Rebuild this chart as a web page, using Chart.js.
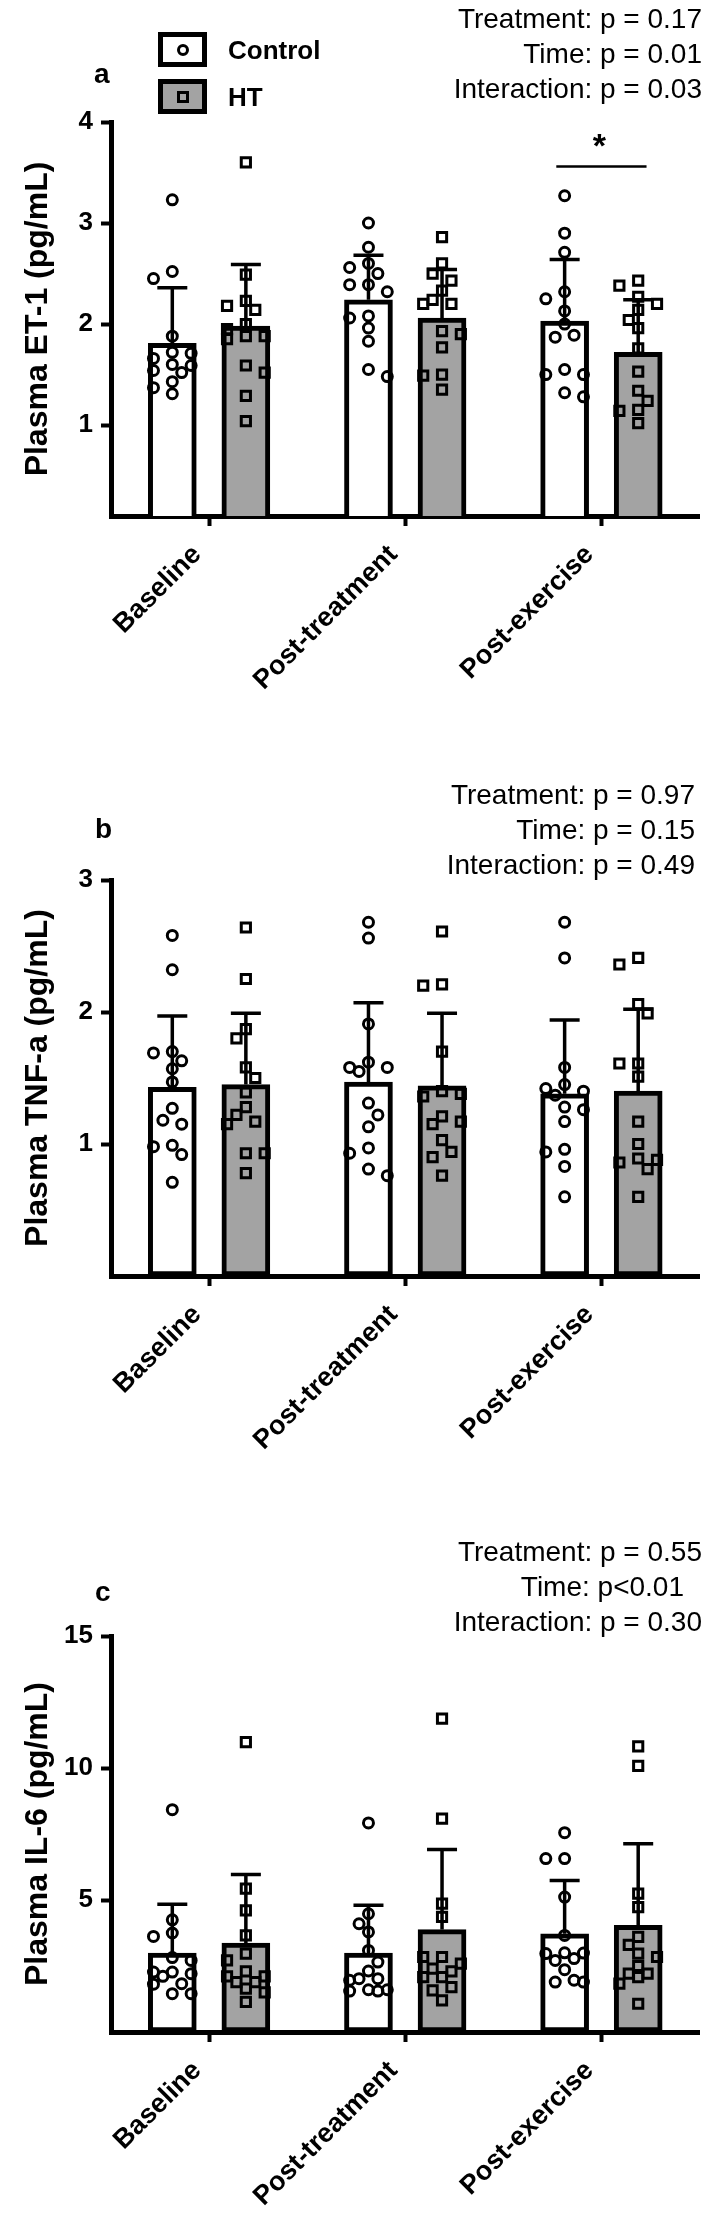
<!DOCTYPE html>
<html>
<head>
<meta charset="utf-8">
<script src="https://cdn.jsdelivr.net/npm/chart.js@4.4.1/dist/chart.umd.min.js"></script>
<style>
  body { margin: 0; background: #fff; width: 709px; height: 2230px; position: relative; overflow: hidden;
         font-family: "Liberation Sans", Arial, sans-serif; color: #000; }
  canvas { position: absolute; left: 0; }
  .pv { position: absolute; right: 7px; text-align: right; font-size: 28px; line-height: 35px; }
  .letter { position: absolute; font-weight: bold; font-size: 28px; line-height: 28px; }
  .lgbox { position: absolute; left: 158px; width: 49px; height: 35px; border: 5px solid #000; box-sizing: border-box; }
  .lgbox span { position: absolute; left: 50%; top: 50%; width: 12px; height: 12px; margin: -6px 0 0 -6px;
                border: 3px solid #000; box-sizing: border-box; }
  .lgtext { position: absolute; left: 228px; font-weight: bold; font-size: 26px; line-height: 30px; }
</style>
</head>
<body>
<canvas id="chartA" width="709" height="740" style="top:0px"></canvas>
<canvas id="chartB" width="709" height="760" style="top:740px"></canvas>
<canvas id="chartC" width="709" height="730" style="top:1500px"></canvas>

<!-- legend (panel a) -->
<div class="lgbox" style="top:32px;background:#fff"><span style="border-radius:50%"></span></div>
<div class="lgtext" style="top:35px">Control</div>
<div class="lgbox" style="top:79px;background:#a3a3a3"><span></span></div>
<div class="lgtext" style="top:82px">HT</div>

<div class="letter" style="left:94px;top:60px">a</div>
<div class="letter" style="left:95px;top:815px">b</div>
<div class="letter" style="left:95px;top:1578px">c</div>

<div class="pv" style="top:1px;right:7px">Treatment: p = 0.17<br>Time: p = 0.01<br>Interaction: p = 0.03</div>
<div class="pv" style="top:777px;right:14px">Treatment: p = 0.97<br>Time: p = 0.15<br>Interaction: p = 0.49</div>
<div class="pv" style="top:1534px;right:7px">Treatment: p = 0.55<br><span style="padding-right:18px">Time: p&lt;0.01</span><br>Interaction: p = 0.30</div>

<script>
const categories = ['Baseline', 'Post-treatment', 'Post-exercise'];

// a: ET-1
const et1CtrlMean = [1.81, 2.24, 2.03];
const et1CtrlSD = [0.55, 0.44, 0.61];
const et1HTMean = [1.98, 2.06, 1.72];
const et1HTSD = [0.61, 0.48, 0.52];
const et1CtrlPts = [
  [3.23, 2.52, 2.45, 1.88, 1.72, 1.71, 1.66, 1.60, 1.59, 1.54, 1.52, 1.43, 1.37, 1.31],
  [3.00, 2.76, 2.60, 2.56, 2.50, 2.39, 2.39, 2.32, 2.08, 2.06, 1.96, 1.83, 1.55, 1.48],
  [3.27, 2.90, 2.71, 2.32, 2.25, 2.13, 2.00, 1.89, 1.87, 1.55, 1.50, 1.50, 1.32, 1.28]
];
const et1HTPts = [
  [3.60, 2.49, 2.23, 2.18, 2.14, 2.00, 1.95, 1.88, 1.88, 1.85, 1.59, 1.52, 1.29, 1.04],
  [2.86, 2.60, 2.50, 2.43, 2.33, 2.24, 2.20, 2.20, 1.93, 1.90, 1.77, 1.50, 1.49, 1.35],
  [2.43, 2.38, 2.27, 2.20, 2.14, 2.04, 1.96, 1.76, 1.53, 1.34, 1.24, 1.15, 1.14, 1.02]
];
const et1Ticks = [1, 2, 3, 4];

// b: TNF-a
const tnfCtrlMean = [1.43, 1.47, 1.38];
const tnfCtrlSD = [0.54, 0.60, 0.56];
const tnfHTMean = [1.45, 1.44, 1.40];
const tnfHTSD = [0.54, 0.55, 0.62];
const tnfCtrlPts = [
  [2.58, 2.32, 1.70, 1.69, 1.63, 1.57, 1.47, 1.27, 1.18, 1.15, 0.99, 0.98, 0.92, 0.71],
  [2.68, 2.56, 1.91, 1.62, 1.58, 1.58, 1.55, 1.31, 1.22, 1.13, 0.97, 0.93, 0.81, 0.76],
  [2.68, 2.41, 1.58, 1.45, 1.42, 1.40, 1.37, 1.28, 1.26, 1.17, 0.96, 0.94, 0.83, 0.60]
];
const tnfHTPts = [
  [2.64, 2.25, 1.87, 1.80, 1.58, 1.50, 1.39, 1.28, 1.22, 1.17, 1.15, 0.93, 0.93, 0.78],
  [2.61, 2.21, 2.20, 1.70, 1.40, 1.38, 1.36, 1.21, 1.17, 1.15, 1.03, 0.94, 0.90, 0.76],
  [2.41, 2.36, 2.06, 1.99, 1.61, 1.61, 1.51, 1.17, 1.00, 0.89, 0.88, 0.86, 0.81, 0.60]
];
const tnfTicks = [1, 2, 3];

// c: IL-6
const il6CtrlMean = [2.99, 2.99, 3.72];
const il6CtrlSD = [1.85, 1.81, 2.02];
const il6HTMean = [3.37, 3.88, 4.04];
const il6HTSD = [2.60, 3.03, 3.09];
const il6CtrlPts = [
  [8.42, 4.25, 3.75, 3.62, 2.82, 2.71, 2.27, 2.27, 2.21, 2.11, 1.83, 1.81, 1.45, 1.45],
  [7.92, 4.48, 4.10, 3.79, 3.09, 2.65, 2.31, 2.02, 2.02, 1.96, 1.60, 1.60, 1.55, 1.55],
  [7.55, 6.57, 6.57, 5.11, 3.66, 3.00, 2.99, 2.97, 2.78, 2.71, 2.36, 1.96, 1.89, 1.89]
];
const il6HTPts = [
  [10.98, 5.43, 4.61, 3.66, 2.97, 2.71, 2.30, 2.11, 2.11, 1.89, 1.89, 1.64, 1.50, 1.14],
  [11.87, 8.08, 4.86, 4.36, 2.84, 2.84, 2.59, 2.40, 2.30, 2.08, 2.08, 1.70, 1.58, 1.20],
  [10.82, 10.08, 5.24, 4.73, 3.60, 3.30, 2.97, 2.84, 2.50, 2.21, 2.21, 2.08, 1.83, 1.07]
];
const il6Ticks = [5, 10, 15];

const FONT = "'Liberation Sans', Arial, sans-serif";
Chart.defaults.font.family = FONT;
Chart.defaults.color = '#000';

const PX_PER_CAT = 198;   // approx width of one category in px
const BAR_SHIFT = 0.1875; // bar centre offset from category centre

// beeswarm kept inside the bar: 5 slots, take the first free one,
// otherwise the slot with the most room
function swarm(vals, ppu) {
  const placed = [];
  const offs = new Array(vals.length);
  const order = vals.map((v, i) => i).sort((a, b) => vals[b] - vals[a]);
  const step = 9.5, minDist = 12;
  let flip = 1;
  for (const i of order) {
    const y = vals[i] * ppu;
    const slots = [0, -flip, flip, -2 * flip, 2 * flip].map(k => k * step);
    let best = 0, bestD = -1, chosen = null;
    for (const o of slots) {
      const d = placed.length ? Math.min(...placed.map(p => Math.hypot(p.x - o, p.y - y))) : 99;
      if (d >= minDist) { chosen = o; break; }
      if (d > bestD) { bestD = d; best = o; }
    }
    if (chosen === null) chosen = best;
    placed.push({ x: chosen, y: y });
    offs[i] = chosen;
    if (chosen !== 0) flip = -flip;
  }
  return offs;
}

function scatterData(groups, side, ppu) {
  const out = [];
  groups.forEach((vals, i) => {
    const offs = swarm(vals, ppu);
    vals.forEach((v, k) => out.push({ x: i + side * BAR_SHIFT + offs[k] / PX_PER_CAT, y: v }));
  });
  return out;
}

function barData(means, side) {
  return means.map((m, i) => ({ x: i + side * BAR_SHIFT, y: m }));
}

const errorBars = {
  id: 'errorBars',
  afterDatasetsDraw(chart, args, opts) {
    const ctx = chart.ctx, yS = chart.scales.y;
    opts.sets.forEach(set => {
      const meta = chart.getDatasetMeta(set.index);
      meta.data.forEach((bar, i) => {
        const top = yS.getPixelForValue(set.mean[i] + set.sd[i]);
        ctx.save();
        ctx.strokeStyle = '#000';
        ctx.lineWidth = 3.5;
        ctx.beginPath();
        ctx.moveTo(bar.x, bar.y);
        ctx.lineTo(bar.x, top);
        ctx.moveTo(bar.x - 15, top);
        ctx.lineTo(bar.x + 15, top);
        ctx.stroke();
        ctx.restore();
      });
    });
  }
};

const sigMark = {
  id: 'sigMark',
  afterDatasetsDraw(chart, args, opts) {
    if (!opts || opts.at === undefined) return;
    const ctx = chart.ctx, xS = chart.scales.x, yS = chart.scales.y;
    const y = yS.getPixelForValue(opts.y);
    const x1 = xS.getPixelForValue(opts.at - opts.half);
    const x2 = xS.getPixelForValue(opts.at + opts.half);
    ctx.save();
    ctx.strokeStyle = '#000';
    ctx.lineWidth = 2.5;
    ctx.beginPath();
    ctx.moveTo(x1, y);
    ctx.lineTo(x2, y);
    ctx.stroke();
    ctx.fillStyle = '#000';
    ctx.font = 'bold 34px ' + FONT;
    ctx.textAlign = 'center';
    ctx.textBaseline = 'alphabetic';
    ctx.fillText('*', (x1 + x2) / 2 - 2, y - 9);
    ctx.restore();
  }
};

function makePanel(id, p) {
  return new Chart(document.getElementById(id), {
    type: 'bar',
    data: {
      datasets: [
        { type: 'scatter', label: 'Control points', data: scatterData(p.ctrlPts, -1, p.ppu),
          pointStyle: 'circle', pointRadius: 5, borderColor: '#000', borderWidth: 3,
          backgroundColor: 'rgba(0,0,0,0)', order: 0 },
        { type: 'scatter', label: 'HT points', data: scatterData(p.htPts, 1, p.ppu),
          pointStyle: 'rect', pointRadius: 6.5, borderColor: '#000', borderWidth: 3,
          backgroundColor: 'rgba(0,0,0,0)', order: 0 },
        { label: 'Control', data: barData(p.ctrlMean, -1), backgroundColor: '#ffffff', borderColor: '#000',
          borderWidth: 5, borderSkipped: false, grouped: false, barThickness: 48, order: 1 },
        { label: 'HT', data: barData(p.htMean, 1), backgroundColor: '#a3a3a3', borderColor: '#000',
          borderWidth: 5, borderSkipped: false, grouped: false, barThickness: 48, order: 1 }
      ]
    },
    options: {
      responsive: false,
      animation: false,
      devicePixelRatio: 1,
      layout: { padding: { top: p.padTop, right: 4, left: 0, bottom: 0 } },
      plugins: {
        legend: { display: false },
        tooltip: { enabled: false },
        errorBars: { sets: [
          { index: 2, mean: p.ctrlMean, sd: p.ctrlSD },
          { index: 3, mean: p.htMean, sd: p.htSD }
        ] },
        sigMark: p.sig || {}
      },
      scales: {
        x: {
          type: 'linear',
          min: -0.5,
          max: 2.5,
          offset: false,
          afterBuildTicks(s) { s.ticks = categories.map((c, i) => ({ value: i })); },
          grid: { display: true, drawOnChartArea: false, offset: false, tickLength: 10, tickWidth: 4, tickColor: '#000' },
          border: { display: true, width: 5, color: '#000' },
          ticks: { color: '#000', font: { size: 27, weight: 'bold' }, minRotation: 45, maxRotation: 45,
                   autoSkip: false, padding: 13, labelOffset: -12,
                   callback: v => categories[v] },
          afterFit(s) { s.height = p.axisH; }
        },
        y: {
          min: p.min,
          max: p.max,
          afterBuildTicks(s) { s.ticks = p.ticks.map(v => ({ value: v })); },
          grid: { drawOnChartArea: false, tickLength: 10, tickWidth: 4, tickColor: '#000' },
          border: { display: true, width: 5, color: '#000' },
          ticks: { color: '#000', font: { size: 26, weight: 'bold' }, padding: 8 },
          title: { display: true, text: p.title, color: '#000', font: { size: 32, weight: 'bold' },
                   padding: { top: 19, bottom: 0 } },
          afterFit(s) { s.width = 111; }
        }
      }
    },
    plugins: [errorBars, sigMark]
  });
}

makePanel('chartA', {
  ctrlMean: et1CtrlMean, ctrlSD: et1CtrlSD, htMean: et1HTMean, htSD: et1HTSD,
  ctrlPts: et1CtrlPts, htPts: et1HTPts, ticks: et1Ticks, min: 0.1, max: 4,
  title: 'Plasma ET-1 (pg/mL)', padTop: 122, axisH: 740 - 516, ppu: 101.1,
  sig: { at: 2, half: 0.23, y: 3.56 }
});
makePanel('chartB', {
  ctrlMean: tnfCtrlMean, ctrlSD: tnfCtrlSD, htMean: tnfHTMean, htSD: tnfHTSD,
  ctrlPts: tnfCtrlPts, htPts: tnfHTPts, ticks: tnfTicks, min: 0, max: 3,
  title: 'Plasma TNF-a (pg/mL)', padTop: 880 - 740, axisH: 760 - (1276 - 740), ppu: 132.7
});
makePanel('chartC', {
  ctrlMean: il6CtrlMean, ctrlSD: il6CtrlSD, htMean: il6HTMean, htSD: il6HTSD,
  ctrlPts: il6CtrlPts, htPts: il6HTPts, ticks: il6Ticks, min: 0, max: 15,
  title: 'Plasma IL-6 (pg/mL)', padTop: 1636 - 1500, axisH: 730 - (2032 - 1500), ppu: 26.4
});
</script>
</body>
</html>
